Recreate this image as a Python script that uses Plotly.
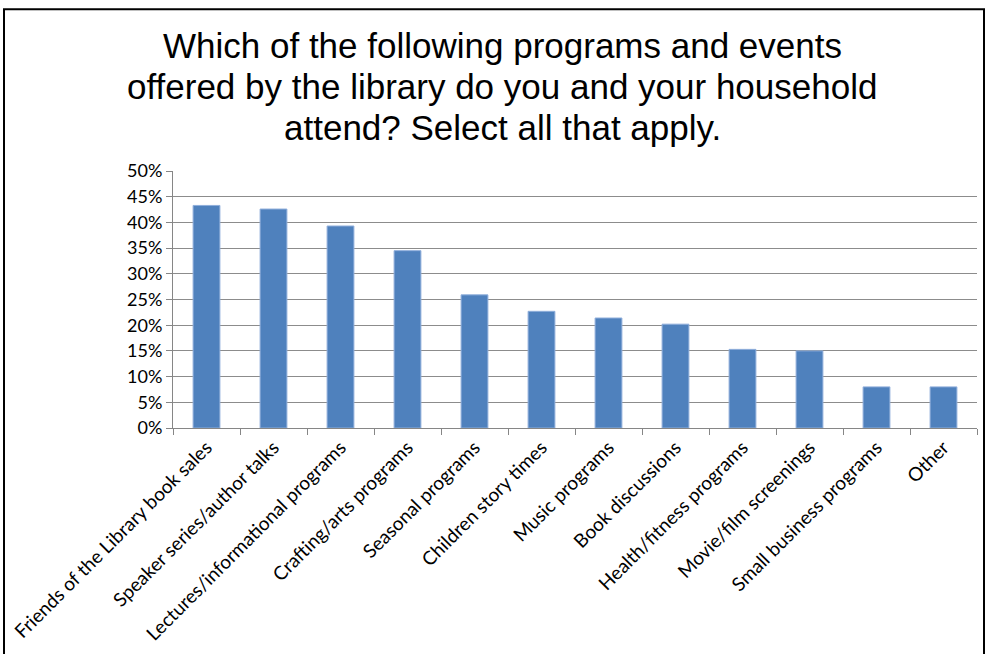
import plotly.graph_objects as go

# Survey categories and share of respondents (%)
categories = [
    "Friends of the Library book sales",
    "Speaker series/author talks",
    "Lectures/informational programs",
    "Crafting/arts programs",
    "Seasonal programs",
    "Children story times",
    "Music programs",
    "Book discussions",
    "Health/fitness programs",
    "Movie/film screenings",
    "Small business programs",
    "Other",
]
shares = [43.3, 42.6, 39.3, 34.5, 25.9, 22.7, 21.4, 20.2, 15.3, 15.0, 8.0, 8.0]
y_ticks = [0, 5, 10, 15, 20, 25, 30, 35, 40, 45, 50]
y_tick_labels = [f"{v}%" for v in y_ticks]

title_lines = [
    "Which of the following programs and events",
    "offered by the library do you and your household",
    "attend? Select all that apply.",
]

W, H = 986, 654
L, R, T, B = 173, 9, 171, 224
plot_w, plot_h = W - L - R, H - T - B


def px_x(x):
    return (x - L) / plot_w


def px_y(y):
    return (H - B - y) / plot_h


fig = go.Figure(
    go.Bar(
        x=categories,
        y=shares,
        marker=dict(color="#4F81BD", line=dict(color="#8FAEDB", width=1)),
        hoverinfo="x+y",
    )
)

# Three-line title, one annotation per line for tight line spacing
title_centers = [45, 86, 127]
annotations = [
    dict(
        text=line,
        xref="paper", yref="paper",
        x=px_x(502), y=px_y(yc),
        xanchor="center", yanchor="middle",
        showarrow=False,
        font=dict(family="Liberation Sans, Arial, sans-serif", size=35, color="black"),
    )
    for line, yc in zip(title_lines, title_centers)
]

fig.update_layout(
    width=W,
    height=H,
    paper_bgcolor="white",
    plot_bgcolor="white",
    showlegend=False,
    bargap=0.6,
    margin=dict(l=L, r=R, t=T, b=B),
    font=dict(family="Lato, Carlito, sans-serif", size=18, color="black"),
    annotations=annotations,
    shapes=[
        dict(
            type="rect",
            xref="paper", yref="paper",
            x0=px_x(4), x1=px_x(984),
            y0=px_y(H + 10), y1=px_y(8),
            line=dict(color="black", width=2),
            fillcolor="rgba(0,0,0,0)",
            layer="below",
        )
    ],
)

fig.update_xaxes(
    type="category",
    tickangle=-45,
    showline=True,
    linecolor="#868686",
    linewidth=1,
    ticks="outside",
    tickson="boundaries",
    ticklen=6,
    tickcolor="#868686",
    showgrid=False,
    tickfont=dict(size=19),
)

fig.update_yaxes(
    range=[0, 50],
    tickvals=y_ticks,
    ticktext=y_tick_labels,
    showline=True,
    linecolor="#868686",
    linewidth=1,
    ticks="outside",
    ticklen=6,
    tickcolor="#868686",
    showgrid=True,
    gridcolor="#8c8c8c",
    gridwidth=1,
    zeroline=False,
    tickfont=dict(size=18),
)

fig.write_html("out.html")
